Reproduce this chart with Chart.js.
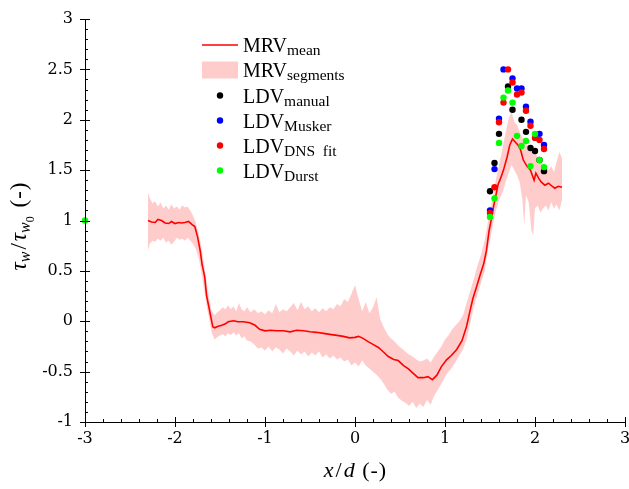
<!DOCTYPE html>
<html><head><meta charset="utf-8">
<script src="https://cdn.jsdelivr.net/npm/chart.js@4.4.1/dist/chart.umd.min.js"></script>
<style>html,body{margin:0;padding:0;background:#fff;}#wrap{width:629px;height:489px;position:relative;}</style>
</head><body><div id="wrap"><canvas id="c"></canvas></div>
<script>
// ---- data ----
const meanX = [-2.30,-2.26,-2.22,-2.19,-2.15,-2.11,-2.07,-2.04,-2.00,-1.96,-1.93,-1.89,-1.85,-1.81,-1.78,-1.75,-1.72,-1.70,-1.67,-1.65,-1.62,-1.60,-1.58,-1.56,-1.52,-1.48,-1.44,-1.41,-1.35,-1.30,-1.24,-1.17,-1.11,-1.06,-1.00,-0.94,-0.87,-0.80,-0.72,-0.65,-0.57,-0.50,-0.43,-0.35,-0.28,-0.20,-0.13,-0.06,0.00,0.04,0.09,0.15,0.20,0.26,0.31,0.37,0.43,0.48,0.54,0.59,0.65,0.70,0.76,0.81,0.86,0.91,0.96,1.02,1.07,1.13,1.19,1.24,1.28,1.31,1.35,1.39,1.43,1.46,1.49,1.52,1.54,1.57,1.59,1.61,1.65,1.69,1.72,1.75,1.78,1.81,1.84,1.87,1.91,1.95,1.99,2.01,2.04,2.07,2.11,2.15,2.19,2.22,2.26,2.30];
const meanY = [1.00,0.985,0.98,1.01,1.00,0.975,0.97,0.99,0.97,0.98,0.975,0.98,0.99,0.96,0.94,0.84,0.70,0.57,0.44,0.26,0.125,0.035,-0.055,-0.065,-0.05,-0.04,-0.025,-0.005,0.005,-0.005,-0.005,-0.015,-0.04,-0.08,-0.095,-0.09,-0.095,-0.095,-0.105,-0.09,-0.095,-0.105,-0.11,-0.12,-0.13,-0.14,-0.15,-0.165,-0.16,-0.15,-0.17,-0.205,-0.23,-0.26,-0.30,-0.35,-0.38,-0.39,-0.44,-0.47,-0.52,-0.56,-0.56,-0.55,-0.58,-0.535,-0.45,-0.38,-0.34,-0.28,-0.19,-0.05,0.11,0.225,0.34,0.46,0.57,0.70,0.90,1.035,1.14,1.27,1.36,1.40,1.50,1.63,1.75,1.81,1.78,1.75,1.70,1.60,1.54,1.50,1.40,1.47,1.42,1.38,1.35,1.37,1.34,1.32,1.34,1.33];

const bandX = [-2.30,-2.28,-2.25,-2.22,-2.19,-2.16,-2.13,-2.10,-2.07,-2.04,-2.01,-1.98,-1.95,-1.92,-1.89,-1.86,-1.83,-1.80,-1.77,-1.74,-1.71,-1.68,-1.65,-1.62,-1.59,-1.56,-1.53,-1.50,-1.47,-1.44,-1.41,-1.38,-1.35,-1.32,-1.29,-1.26,-1.23,-1.20,-1.16,-1.12,-1.08,-1.04,-1.00,-0.96,-0.92,-0.88,-0.84,-0.80,-0.76,-0.72,-0.68,-0.64,-0.60,-0.56,-0.52,-0.48,-0.44,-0.40,-0.36,-0.32,-0.28,-0.24,-0.20,-0.16,-0.12,-0.08,-0.04,0.00,0.04,0.08,0.12,0.16,0.20,0.24,0.28,0.32,0.36,0.40,0.44,0.48,0.52,0.56,0.60,0.64,0.68,0.72,0.76,0.80,0.84,0.88,0.92,0.96,1.00,1.04,1.08,1.12,1.16,1.20,1.24,1.28,1.32,1.36,1.40,1.44,1.48,1.52,1.56,1.60,1.64,1.68,1.71,1.74,1.77,1.80,1.83,1.86,1.88,1.90,1.93,1.96,1.98,2.00,2.03,2.06,2.09,2.12,2.15,2.18,2.21,2.24,2.27,2.30];
const bandUpper = [1.28,1.22,1.17,1.19,1.14,1.18,1.12,1.15,1.11,1.16,1.12,1.14,1.11,1.15,1.13,1.14,1.10,1.05,0.98,0.88,0.75,0.58,0.40,0.22,0.10,0.06,0.09,0.11,0.14,0.12,0.16,0.12,0.15,0.10,0.18,0.12,0.10,0.14,0.09,0.12,0.08,0.10,0.07,0.11,0.08,0.17,0.09,0.12,0.10,0.14,0.18,0.11,0.19,0.12,0.15,0.10,0.13,0.09,0.13,0.10,0.14,0.12,0.17,0.15,0.22,0.19,0.27,0.36,0.22,0.10,0.19,0.08,0.14,0.24,0.02,-0.06,-0.13,-0.17,-0.20,-0.24,-0.27,-0.30,-0.33,-0.35,-0.38,-0.40,-0.39,-0.37,-0.41,-0.35,-0.30,-0.25,-0.18,-0.14,-0.08,-0.04,0.00,0.06,0.18,0.30,0.42,0.55,0.66,0.80,1.00,1.18,1.38,1.55,1.72,1.90,2.02,2.08,1.98,1.95,1.88,1.82,1.80,1.78,1.72,1.70,1.66,1.70,1.62,1.58,1.55,1.52,1.50,1.54,1.48,1.58,1.68,1.62];
const bandLower = [0.70,0.77,0.80,0.79,0.82,0.80,0.83,0.78,0.80,0.76,0.79,0.83,0.81,0.82,0.80,0.83,0.80,0.77,0.72,0.64,0.50,0.34,0.16,0.02,-0.12,-0.18,-0.16,-0.14,-0.13,-0.15,-0.12,-0.14,-0.11,-0.14,-0.12,-0.17,-0.15,-0.19,-0.20,-0.23,-0.27,-0.26,-0.29,-0.25,-0.30,-0.26,-0.28,-0.32,-0.27,-0.30,-0.34,-0.29,-0.33,-0.30,-0.35,-0.31,-0.34,-0.30,-0.36,-0.33,-0.37,-0.34,-0.38,-0.36,-0.40,-0.38,-0.44,-0.41,-0.45,-0.39,-0.44,-0.47,-0.50,-0.53,-0.57,-0.62,-0.68,-0.72,-0.70,-0.76,-0.79,-0.81,-0.84,-0.80,-0.86,-0.82,-0.85,-0.78,-0.83,-0.74,-0.68,-0.62,-0.55,-0.50,-0.46,-0.40,-0.34,-0.28,-0.18,-0.02,0.14,0.26,0.38,0.50,0.72,0.90,1.08,1.20,1.28,1.40,1.48,1.55,1.50,1.45,1.38,1.20,0.95,1.25,1.18,0.90,0.85,1.12,1.15,1.08,1.12,1.15,1.10,1.18,1.12,1.16,1.10,1.20];

const manualX = [1.50,1.55,1.60,1.70,1.75,1.85,1.90,1.95,2.00,2.05,2.10];
const manualY = [1.29,1.57,1.86,2.33,2.10,2.00,1.88,1.72,1.69,1.60,1.49];
const muskerX = [1.50,1.55,1.60,1.65,1.75,1.80,1.85,1.90,1.95,2.05,2.10];
const muskerY = [1.10,1.51,2.01,2.50,2.41,2.31,2.31,2.13,1.98,1.86,1.75];
const dnsX = [1.50,1.55,1.60,1.65,1.70,1.75,1.80,1.85,1.90,1.95,2.00,2.05,2.10];
const dnsY = [1.075,1.33,1.975,2.17,2.50,2.37,2.25,2.27,2.09,1.94,1.82,1.80,1.71];
const durstX = [-3.00,1.50,1.55,1.60,1.65,1.70,1.75,1.80,1.85,1.90,1.95,2.00,2.05,2.10];
const durstY = [1.00,1.035,1.22,1.77,2.22,2.29,2.17,1.84,1.74,1.79,1.54,1.86,1.60,1.53];

const xTicks = [-3,-2,-1,0,1,2,3];
const yTicks = [-1,-0.5,0,0.5,1,1.5,2,2.5,3];
const xMinorStep = 0.2, yMinorStep = 0.1;

const SERIF = '"Liberation Serif", "DejaVu Serif", serif';
const TICKFONT = '"DejaVu Serif", serif';
const pts = (xs, ys) => xs.map((x, i) => ({x: x, y: ys[i]}));

const dotDS = (label, xs, ys, color, order) => ({
  label: label, data: pts(xs, ys), showLine: false, pointRadius: 3.2, pointHoverRadius: 3.2,
  pointBackgroundColor: color, pointBorderColor: color, pointBorderWidth: 0, order: order, clip: false
});

function drawSegs(ctx, segs, x, y, leftAlign) {
  let w = 0;
  segs.forEach(s => { ctx.font = s[1]; w += ctx.measureText(s[0]).width + (s[3] || 0); });
  let cx = leftAlign ? x : x - w / 2;
  ctx.textAlign = 'left'; ctx.textBaseline = 'alphabetic';
  segs.forEach(s => { ctx.font = s[1]; ctx.fillText(s[0], cx, y + s[2]); cx += ctx.measureText(s[0]).width + (s[3] || 0); });
}

const decor = {
  id: 'decor',
  afterDraw(chart) {
    const ctx = chart.ctx, xs = chart.scales.x, ys = chart.scales.y, a = chart.chartArea;
    ctx.save();
    ctx.strokeStyle = '#000'; ctx.lineWidth = 1;
    ctx.beginPath();
    ctx.moveTo(a.left + 0.5, a.top); ctx.lineTo(a.left + 0.5, a.bottom + 0.5); ctx.lineTo(a.right, a.bottom + 0.5);
    ctx.stroke();
    const nY = Math.round((ys.max - ys.min) / yMinorStep);
    for (let k = 0; k <= nY; k++) {
      const v = ys.min + k * yMinorStep;
      const major = yTicks.some(t => Math.abs(t - v) < 1e-6);
      const py = Math.round(ys.getPixelForValue(v)) + 0.5;
      ctx.beginPath(); ctx.moveTo(a.left - (major ? 5 : 0), py); ctx.lineTo(a.left + (major ? 5 : 3), py); ctx.stroke();
    }
    const nX = Math.round((xs.max - xs.min) / xMinorStep);
    for (let k = 0; k <= nX; k++) {
      const v = xs.min + k * xMinorStep;
      const major = xTicks.some(t => Math.abs(t - v) < 1e-6);
      const px = Math.round(xs.getPixelForValue(v)) + 0.5;
      ctx.beginPath(); ctx.moveTo(px, a.bottom + (major ? 5 : 0)); ctx.lineTo(px, a.bottom - (major ? 5 : 3)); ctx.stroke();
    }
    ctx.fillStyle = '#000';
    // x title
    const segsX = [['x', 'italic 22px ' + SERIF, 0, 2], ['/', '22px ' + SERIF, 0, 2], ['d', 'italic 22px ' + SERIF, 0, 2], [' (', '22px ' + SERIF, 0, 1], ['-', '22px ' + SERIF, 0, 1], [')', '22px ' + SERIF, 0, 0]];
    drawSegs(ctx, segsX, (a.left + a.right) / 2, 477, false);
    // y title (rotated)
    ctx.save();
    ctx.translate(26, 226.5); ctx.rotate(-Math.PI / 2);
    const segsY = [['τ', 'italic 23px ' + SERIF, 0, 0], ['w', 'italic 16px ' + SERIF, 4, 2], ['/', '23px ' + SERIF, 0, 2], ['τ', 'italic 23px ' + SERIF, 0, 0], ['w', 'italic 16px ' + SERIF, 4, 0], ['0', '12px ' + SERIF, 8, 3], [' (', '23px ' + SERIF, 0, 1], ['-', '23px ' + SERIF, 0, 1], [')', '23px ' + SERIF, 0, 0]];
    drawSegs(ctx, segsY, 0, 0, false);
    ctx.restore();
    // legend
    const lx0 = 202, lx1 = 238, tx = 243;
    const rows = [45, 70, 95.5, 120.5, 145.5, 170.5];
    ctx.strokeStyle = '#ff0000'; ctx.lineWidth = 1.6;
    ctx.beginPath(); ctx.moveTo(lx0, rows[0]); ctx.lineTo(lx1, rows[0]); ctx.stroke();
    ctx.fillStyle = 'rgba(255,0,0,0.2)';
    ctx.fillRect(lx0, rows[1] - 8.5, lx1 - lx0, 17);
    const dotCols = ['#000000', '#0000ff', '#ff0000', '#00ff00'];
    for (let i = 0; i < 4; i++) {
      ctx.fillStyle = dotCols[i];
      ctx.beginPath(); ctx.arc((lx0 + lx1) / 2, rows[i + 2], 3.2, 0, Math.PI * 2); ctx.fill();
    }
    ctx.fillStyle = '#000';
    const names = [['MRV', 'mean'], ['MRV', 'segments'], ['LDV', 'manual'], ['LDV', 'Musker'], ['LDV', 'DNS  fit'], ['LDV', 'Durst']];
    names.forEach((n, i) => {
      drawSegs(ctx, [[n[0], '20px ' + SERIF, 0, 0], [n[1], '15.5px ' + SERIF, 3, 0]], tx, rows[i] + 7, true);
    });
    ctx.restore();
  }
};

new Chart(document.getElementById('c'), {
  type: 'line',
  data: {
    datasets: [
      dotDS('LDV Durst', durstX, durstY, '#00ff00', 1),
      dotDS('LDV DNS fit', dnsX, dnsY, '#ff0000', 2),
      dotDS('LDV Musker', muskerX, muskerY, '#0000ff', 3),
      dotDS('LDV manual', manualX, manualY, '#000000', 4),
      { label: 'MRV mean', data: pts(meanX, meanY), borderColor: '#ff0000', borderWidth: 1.6, pointRadius: 0, tension: 0, fill: false, order: 5 },
      { label: 'MRV segments upper', data: pts(bandX, bandUpper), borderWidth: 0, borderColor: 'rgba(0,0,0,0)', backgroundColor: 'rgba(255,0,0,0.2)', pointRadius: 0, fill: '+1', order: 6 },
      { label: 'MRV segments lower', data: pts(bandX, bandLower), borderWidth: 0, borderColor: 'rgba(0,0,0,0)', pointRadius: 0, fill: false, order: 7 }
    ]
  },
  options: {
    responsive: true, maintainAspectRatio: false, animation: false,
    layout: { padding: { top: 19, right: 4, left: 0, bottom: 0 } },
    plugins: { legend: { display: false }, tooltip: { enabled: false } },
    scales: {
      x: {
        type: 'linear', min: -3, max: 3,
        grid: { display: false, drawTicks: false }, border: { display: false },
        afterBuildTicks: s => { s.ticks = xTicks.map(v => ({ value: v })); },
        afterFit: s => { s.height = 67; s.paddingLeft = 0; s.paddingRight = 0; },
        ticks: { color: '#000', padding: 7, maxRotation: 0, font: { family: TICKFONT, size: 16 }, callback: v => String(v) }
      },
      y: {
        type: 'linear', min: -1, max: 3,
        grid: { display: false, drawTicks: false }, border: { display: false },
        afterBuildTicks: s => { s.ticks = yTicks.map(v => ({ value: v })); },
        afterFit: s => { s.width = 85; s.paddingTop = 0; s.paddingBottom = 0; },
        ticks: { color: '#000', padding: 12, font: { family: TICKFONT, size: 16 }, callback: v => String(v) }
      }
    }
  },
  plugins: [decor]
});
</script></body></html>
